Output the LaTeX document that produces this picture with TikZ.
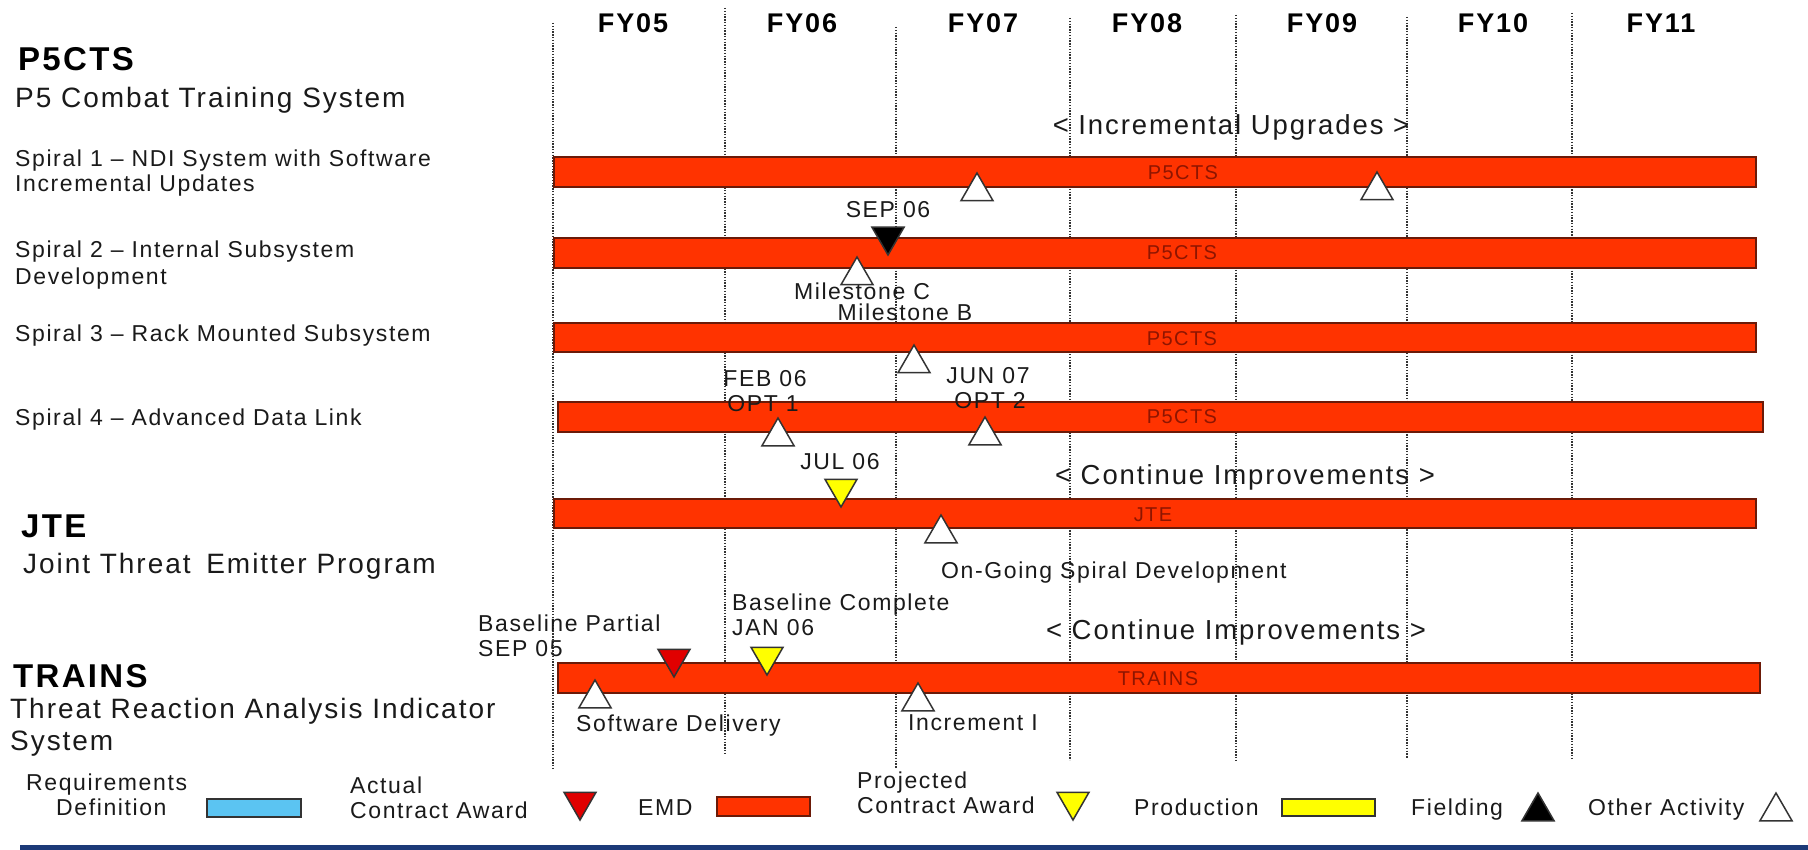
\documentclass[tikz,border=0pt]{standalone}
\usepackage{fontspec}
\setmainfont[LetterSpace=7]{Liberation Sans}
\usetikzlibrary{shapes.geometric}
\definecolor{barred}{HTML}{FF3300}
\definecolor{baredge}{HTML}{6B1A08}
\definecolor{barlbl}{HTML}{8E1500}
\definecolor{reqblue}{HTML}{5BC4F2}
\definecolor{navy}{HTML}{1C3A78}
\definecolor{txt}{HTML}{1A1A1A}
\definecolor{awardred}{HTML}{E00000}
\definecolor{gridc}{HTML}{333333}
\definecolor{prodyel}{HTML}{FFFF00}
\tikzset{
  bar/.style={draw=baredge, line width=1.5pt, fill=barred},
  gridline/.style={draw=gridc, line width=1.3pt, dash pattern=on 1.4pt off 1.4pt},
  tri/.style={regular polygon, regular polygon sides=3, minimum size=37pt, inner sep=0pt, draw=gridc, line width=1.5pt},
  uptri/.style={tri, fill=white},
  dntri/.style={tri, shape border rotate=180},
  txtbase/.style={inner sep=0pt, text=txt},
  small/.style={txtbase, font=\fontsize{23}{27}\selectfont},
  mid/.style={txtbase, font=\fontsize{28}{32}\selectfont},
  brack/.style={txtbase, font=\fontsize{27.5}{31}\selectfont},
  title/.style={txtbase, text=black, font=\fontsize{33}{37}\selectfont\bfseries},
  fy/.style={txtbase, text=black, font=\fontsize{27}{31}\selectfont\bfseries, anchor=base},
  barlabel/.style={inner sep=0pt, text=barlbl, font=\fontsize{20}{23}\selectfont, anchor=base},
}
\begin{document}
\begin{tikzpicture}[x=1pt,y=-1pt]
\fill[white] (0,0) rectangle (1808,850);
\useasboundingbox (0,0) rectangle (1808,850);

% grid lines
\coordinate (g1t) at (553,23);  \coordinate (g1b) at (553,768);
\coordinate (g2t) at (725,8);   \coordinate (g2b) at (725,755);
\coordinate (g3t) at (896,27);  \coordinate (g3b) at (896,768);
\coordinate (g4t) at (1070,18); \coordinate (g4b) at (1070,760);
\coordinate (g5t) at (1236,15); \coordinate (g5b) at (1236,762);
\coordinate (g6t) at (1407,17); \coordinate (g6b) at (1407,758);
\coordinate (g7t) at (1572,13); \coordinate (g7b) at (1572,760);
\foreach \i in {1,...,7} {\draw[gridline] (g\i t) -- (g\i b);}

% FY headers
\node[fy] (fy05) at (633,33) {FY05};
\node[fy] (fy06) at (802,33) {FY06};
\node[fy] (fy07) at (983,33) {FY07};
\node[fy] (fy08) at (1147,33) {FY08};
\node[fy] (fy09) at (1322,33) {FY09};
\node[fy] (fy10) at (1493,33) {FY10};
\node[fy] (fy11) at (1661,33) {FY11};

% bars
\draw[bar] (554,157) rectangle (1756,187);
\draw[bar] (554,238) rectangle (1756,268);
\draw[bar] (554,323) rectangle (1756,352);
\draw[bar] (558,402) rectangle (1763,432);
\draw[bar] (554,499) rectangle (1756,528);
\draw[bar] (558,663) rectangle (1760,693);
\node[barlabel] (b1) at (1183,180) {P5CTS};
\node[barlabel] (b2) at (1182,260) {P5CTS};
\node[barlabel] (b3) at (1182,345) {P5CTS};
\node[barlabel] (b4) at (1182,424) {P5CTS};
\node[barlabel] (b5) at (1153,521) {JTE};
\node[barlabel] (b6) at (1158,685) {TRAINS};

% left column
\node[title, anchor=base west] (p5) at (18,71) {P5CTS};
\node[mid, anchor=base west] (p5sub) at (15,108) {P5 Combat Training System};
\node[small, anchor=base west] (s1a) at (15,167) {Spiral 1 – NDI System with Software};
\node[small, anchor=base west] (s1b) at (15,192) {Incremental Updates};
\node[small, anchor=base west] (s2a) at (15,258) {Spiral 2 – Internal Subsystem};
\node[small, anchor=base west] (s2b) at (15,285) {Development};
\node[small, anchor=base west] (s3) at (15,342) {Spiral 3 – Rack Mounted Subsystem};
\node[small, anchor=base west] (s4) at (15,425) {Spiral 4 – Advanced Data Link};
\node[title, anchor=base west] (jte) at (21,537) {JTE};
\node[mid, anchor=base west] (jtesub) at (23,573) {Joint Threat\hspace{6pt} Emitter Program};
\node[title, anchor=base west] (trains) at (13,687) {TRAINS};
\node[mid, anchor=base west] (trsub1) at (10,718) {Threat Reaction Analysis Indicator};
\node[mid, anchor=base west] (trsub2) at (10,750) {System};

% annotations
\node[brack, anchor=base] (incup) at (1231,135) {< Incremental Upgrades >};
\node[brack, anchor=base] (cont1) at (1245,484) {< Continue Improvements >};
\node[brack, anchor=base] (cont2) at (1236,639) {< Continue Improvements >};
\node[small, anchor=base] (sep06) at (888,218) {SEP 06};
\node[small, anchor=base] (msc) at (862,300) {Milestone C};
\node[small, anchor=base] (msb) at (905,321) {Milestone B};
\node[small, anchor=base] (feb06) at (765,386) {FEB 06};
\node[small, anchor=base] (opt1) at (763,411) {OPT 1};
\node[small, anchor=base] (jun07) at (988,384) {JUN 07};
\node[small, anchor=base] (opt2) at (990,409) {OPT 2};
\node[small, anchor=base] (jul06) at (840,469) {JUL 06};
\node[small, anchor=base west] (ongo) at (941,578) {On-Going Spiral Development};
\node[small, anchor=base west] (bpart) at (478,631) {Baseline Partial};
\node[small, anchor=base west] (sep05) at (478,656) {SEP 05};
\node[small, anchor=base west] (swdel) at (576,731) {Software Delivery};
\node[small, anchor=base west] (bcomp) at (732,610) {Baseline Complete};
\node[small, anchor=base west] (jan06) at (732,635) {JAN 06};
\node[small, anchor=base west] (inc1) at (908,730) {Increment I};

% markers
\node[uptri] (t1) at (977,191.5) {};
\node[uptri] (t2) at (1377,190.5) {};
\node[dntri, fill=black] (f1) at (888,236.5) {};
\node[uptri] (t3) at (857,275.5) {};
\node[uptri] (t4) at (914,363.5) {};
\node[uptri] (t5) at (778,436.5) {};
\node[uptri] (t6) at (985,435.5) {};
\node[dntri, fill=prodyel] (y1) at (841,488.5) {};
\node[uptri] (t7) at (941,533.5) {};
\node[dntri, fill=awardred] (r1) at (674,658.5) {};
\node[dntri, fill=prodyel] (y2) at (767,656.5) {};
\node[uptri] (t8) at (595,698.5) {};
\node[uptri] (t9) at (918,701.5) {};

% legend
\node[small, anchor=base west] (lreq1) at (26,790) {Requirements};
\node[small, anchor=base west] (lreq2) at (56,815) {Definition};
\draw[draw=gridc, line width=1.5pt, fill=reqblue] (207,799) rectangle (301,817);
\node[small, anchor=base west] (lact1) at (350,793) {Actual};
\node[small, anchor=base west] (lact2) at (350,818) {Contract Award};
\node[dntri, fill=awardred] (lr) at (580,801.5) {};
\node[small, anchor=base west] (lemd) at (638,815) {EMD};
\draw[bar] (717,797) rectangle (810,816);
\node[small, anchor=base west] (lproj1) at (857,788) {Projected};
\node[small, anchor=base west] (lproj2) at (857,813) {Contract Award};
\node[dntri, fill=prodyel] (ly) at (1073,801.5) {};
\node[small, anchor=base west] (lprod) at (1134,815) {Production};
\draw[draw=gridc, line width=1.5pt, fill=prodyel] (1282,799) rectangle (1375,816);
\node[small, anchor=base west] (lfield) at (1411,815) {Fielding};
\node[tri, fill=black] (lb) at (1538,811.5) {};
\node[small, anchor=base west] (lother) at (1588,815) {Other Activity};
\node[uptri] (lw) at (1776,811.5) {};

% bottom band
\fill[navy] (20,845) rectangle (1808,850);
\end{tikzpicture}
\end{document}
